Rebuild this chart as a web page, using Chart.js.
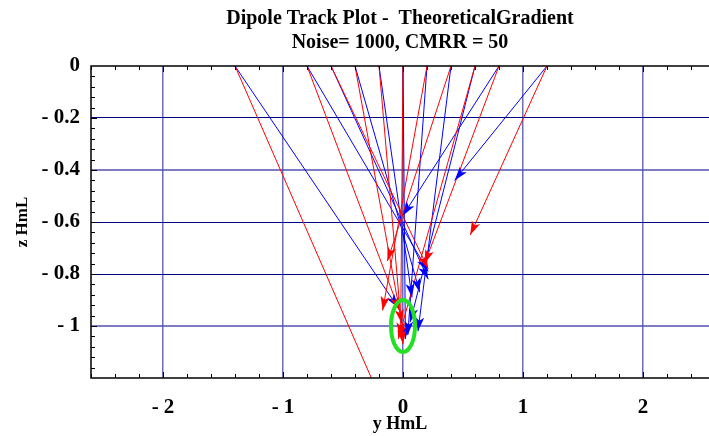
<!DOCTYPE html>
<html>
<head>
<meta charset="utf-8">
<title>Dipole Track Plot</title>
<script src="https://cdn.jsdelivr.net/npm/chart.js@4/dist/chart.umd.min.js"></script>
<style>
    html, body { margin: 0; padding: 0; background: #fff; }
    #track-chart { display: block; }
</style>
</head>
<body>
<canvas id="track-chart" width="709" height="436"></canvas>
<script>
// Electrode positions along the surface (z = 0)
const sourceY = [-1.4, -0.8, -0.6, -0.4, -0.2, 0, 0.2, 0.4, 0.6, 0.8, 1.2];

// Estimated dipole positions, theoretical gradient
const redEndY  = [-0.15, -0.03, 0.21, -0.01, 0.00, -0.02, -0.17, -0.13, -0.04, 0.18, 0.56];
const redEndZ  = [-1.32, -0.94, -0.78, -0.99, -1.07, -1.04, -0.94, -0.75, -1.05, -0.76, -0.65];
const blueEndY = [-0.04, 0.21, 0.21, 0.14, 0.075, 0.02, 0.04, 0.125, 0.06, 0.00, 0.43];
const blueEndZ = [-0.93, -0.79, -0.82, -0.87, -0.89, -1.05, -1.035, -1.02, -0.985, -0.575, -0.44];

// True dipole location and the marker radius around it
const dipoleY = 0;
const dipoleZ = -1.0;
const dipoleRadius = 0.1;

// Axis ticks
const xTicks = [-2, -1, 0, 1, 2];
const yTicks = [0, -0.2, -0.4, -0.6, -0.8, -1];

const serif = "'Liberation Serif', 'Times New Roman', serif";

function tickLabel(v) {
    return v < 0 ? '- ' + Math.abs(v) : String(v);
}

function trackDataset(endY, endZ, i, color) {
    return {
        data: [{ x: sourceY[i], y: 0 }, { x: endY[i], y: endZ[i] }],
        borderColor: color,
        backgroundColor: color,
        borderWidth: 1,
        showLine: true,
        pointRadius: 0,
        pointHoverRadius: 0
    };
}

const datasets = [];
sourceY.forEach((s, i) => datasets.push(trackDataset(redEndY, redEndZ, i, '#ff0000')));
sourceY.forEach((s, i) => datasets.push(trackDataset(blueEndY, blueEndZ, i, '#0000ff')));

// Frame, inward minor ticks, arrowheads and the dipole ring
const plotDecorations = {
    id: 'plotDecorations',
    afterDatasetsDraw(chart) {
        const ctx = chart.ctx;
        const area = chart.chartArea;
        const xs = chart.scales.x;
        const ys = chart.scales.y;

        ctx.save();
        ctx.beginPath();
        ctx.rect(area.left, area.top, area.right - area.left, area.bottom - area.top);
        ctx.clip();

        // arrowheads, blue below red
        for (let d = chart.data.datasets.length - 1; d >= 0; d--) {
            const pts = chart.getDatasetMeta(d).data;
            const a = pts[0], b = pts[1];
            const ang = Math.atan2(b.y - a.y, b.x - a.x);
            const len = 14, half = 4.5;
            ctx.save();
            ctx.translate(b.x, b.y);
            ctx.rotate(ang);
            ctx.fillStyle = chart.data.datasets[d].borderColor;
            ctx.beginPath();
            ctx.moveTo(0, 0);
            ctx.lineTo(-len, -half);
            ctx.lineTo(-len * 0.75, 0);
            ctx.lineTo(-len, half);
            ctx.closePath();
            ctx.fill();
            ctx.restore();
        }

        // ring around the true dipole
        const cx = xs.getPixelForValue(dipoleY);
        const cy = ys.getPixelForValue(dipoleZ);
        const rx = Math.abs(xs.getPixelForValue(dipoleY + dipoleRadius) - cx);
        const ry = Math.abs(ys.getPixelForValue(dipoleZ + dipoleRadius) - cy);
        ctx.strokeStyle = '#22e022';
        ctx.lineWidth = 4;
        ctx.beginPath();
        ctx.ellipse(cx, cy, rx, ry, 0, 0, Math.PI * 2);
        ctx.stroke();
        ctx.restore();

        // minor ticks pointing into the plot
        ctx.save();
        ctx.strokeStyle = '#000';
        ctx.lineWidth = 1;
        ctx.beginPath();
        for (let k = 1; k < 30; k++) {
            const v = -k * 0.04;
            const py = Math.round(ys.getPixelForValue(v)) + 0.5;
            const major = k % 5 === 0;
            ctx.moveTo(area.left, py);
            ctx.lineTo(area.left + (major ? 6 : 4), py);
        }
        for (let k = -13; k <= 12; k++) {
            const v = k * 0.2;
            const px = Math.round(xs.getPixelForValue(v)) + 0.5;
            const major = k % 5 === 0;
            ctx.moveTo(px, area.bottom);
            ctx.lineTo(px, area.bottom - (major ? 6 : 4));
            ctx.moveTo(px, area.top);
            ctx.lineTo(px, area.top + (major ? 6 : 4));
        }
        ctx.stroke();

        // frame
        ctx.lineWidth = 1.5;
        ctx.beginPath();
        ctx.moveTo(area.right + 2, area.top);
        ctx.lineTo(area.left, area.top);
        ctx.lineTo(area.left, area.bottom);
        ctx.lineTo(area.right + 2, area.bottom);
        ctx.stroke();
        ctx.restore();
    }
};

new Chart(document.getElementById('track-chart'), {
    type: 'scatter',
    data: { datasets: datasets },
    options: {
        responsive: false,
        animation: false,
        devicePixelRatio: 1,
        layout: { padding: 0 },
        plugins: {
            legend: { display: false },
            tooltip: { enabled: false },
            title: {
                display: true,
                fullSize: false,
                text: ['Dipole Track Plot -  TheoreticalGradient', 'Noise= 1000, CMRR = 50'],
                color: '#000',
                font: { family: serif, size: 20, weight: 'bold', lineHeight: 1.2 },
                padding: { top: 7, bottom: 11 }
            }
        },
        scales: {
            x: {
                type: 'linear',
                min: -2.6,
                max: 2.55,
                afterBuildTicks: (scale) => { scale.ticks = xTicks.map(v => ({ value: v })); },
                afterFit: (scale) => { scale.height = 58; },
                ticks: {
                    callback: tickLabel,
                    color: '#000',
                    padding: 17,
                    maxRotation: 0,
                    font: { family: serif, size: 21, weight: 'bold' }
                },
                grid: {
                    drawTicks: false,
                    color: 'rgba(60, 60, 160, 0.75)',
                    lineWidth: 1.5
                },
                border: { display: false },
                title: {
                    display: true,
                    text: 'y HmL',
                    color: '#000',
                    font: { family: serif, size: 18, weight: 'bold' },
                    padding: { top: 0, bottom: 1 }
                }
            },
            y: {
                type: 'linear',
                min: -1.2,
                max: 0,
                afterBuildTicks: (scale) => { scale.ticks = yTicks.map(v => ({ value: v })); },
                afterFit: (scale) => { scale.width = 91; },
                ticks: {
                    callback: tickLabel,
                    color: '#000',
                    padding: 11,
                    font: { family: serif, size: 21, weight: 'bold' }
                },
                grid: {
                    drawTicks: false,
                    color: (c) => {
                        const v = c.tick ? Math.round(c.tick.value * 10) : 0;
                        if (v === 0) return 'rgba(0,0,0,0)';
                        return (v === -4 || v === -10) ? 'rgba(70, 70, 170, 0.7)' : '#000080';
                    },
                    lineWidth: (c) => {
                        const v = c.tick ? Math.round(c.tick.value * 10) : 0;
                        return (v === -4 || v === -10) ? 2 : 1;
                    }
                },
                border: { display: false },
                title: {
                    display: true,
                    text: 'z HmL',
                    color: '#000',
                    font: { family: serif, size: 17, weight: 'bold' },
                    padding: { top: 12, bottom: 0 }
                }
            }
        }
    },
    plugins: [plotDecorations]
});
</script>
</body>
</html>
